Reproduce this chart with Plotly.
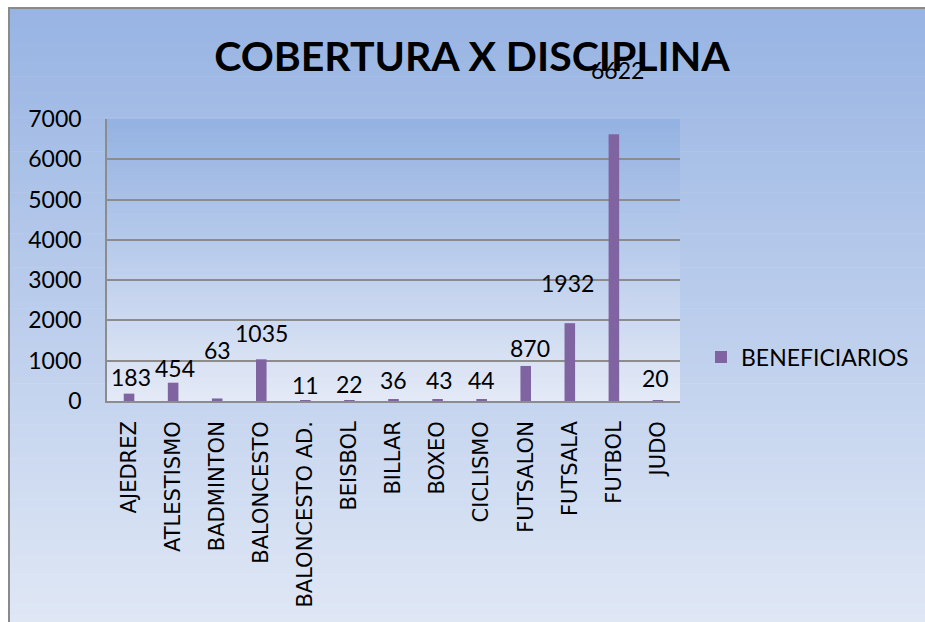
import plotly.graph_objects as go

# ---- data ----
categories = ["AJEDREZ", "ATLESTISMO", "BADMINTON", "BALONCESTO", "BALONCESTO AD.",
              "BEISBOL", "BILLAR", "BOXEO", "CICLISMO", "FUTSALON", "FUTSALA",
              "FUTBOL", "JUDO"]
beneficiarios = [183, 454, 63, 1035, 11, 22, 36, 43, 44, 870, 1932, 6622, 20]
series_name = "BENEFICIARIOS"
title_text = "COBERTURA X DISCIPLINA"
y_ticks = [0, 1000, 2000, 3000, 4000, 5000, 6000, 7000]

# label placement (pixel offsets, as in the original chart)
label_yshift = [17, 15, 48, 26, 16, 16, 20, 19, 19, 18, 40, 64, 22]
label_xshift = [2, 2, 0, 0, 0, 0, 0, 2, 0, 4, -2, 4, -2]

# ---- layout geometry ----
W, H = 925, 622
L, R, T, B = 107, 680, 119, 401

def px_x(p):
    return (p - L) / (R - L)

def px_y(p):
    return (B - p) / (B - T)

def mix(c1, c2, f):
    return "rgb(%d,%d,%d)" % tuple(round(a + (b - a) * f) for a, b in zip(c1, c2))

shapes = []
# outer chart-area gradient
outer_top, outer_bot = (152, 180, 227), (223, 231, 245)
N = 90
y0, y1 = 8, 622
for i in range(N):
    a = y0 + (y1 - y0) * i / N
    b = y0 + (y1 - y0) * (i + 1) / N
    shapes.append(dict(type="rect", xref="paper", yref="paper",
                       x0=px_x(9), x1=px_x(W + 2), y0=px_y(a), y1=px_y(b + 0.6),
                       fillcolor=mix(outer_top, outer_bot, i / (N - 1)),
                       line=dict(width=0), layer="below"))
# plot-area gradient
plot_top, plot_bot = (148, 178, 226), (227, 233, 246)
M = 60
for i in range(M):
    a = T + (B - T) * i / M
    b = T + (B - T) * (i + 1) / M
    shapes.append(dict(type="rect", xref="paper", yref="paper",
                       x0=0, x1=1, y0=px_y(a), y1=px_y(b + 0.6),
                       fillcolor=mix(plot_top, plot_bot, i / (M - 1)),
                       line=dict(width=0), layer="below"))
# chart frame
shapes.append(dict(type="path", xref="paper", yref="paper",
                   path="M %f,%f L %f,%f L %f,%f" % (px_x(9), px_y(H + 5), px_x(9), px_y(8),
                                                    px_x(W + 5), px_y(8)),
                   line=dict(color="#8A8A8A", width=2), layer="below"))

fig = go.Figure()
fig.add_trace(go.Bar(x=categories, y=beneficiarios, name=series_name,
                     marker=dict(color="#8064A2", line=dict(width=0)),
                     width=0.24, showlegend=True))

annotations = []
for c, v, ys, xs in zip(categories, beneficiarios, label_yshift, label_xshift):
    annotations.append(dict(x=c, y=v, text=str(v), showarrow=False,
                            yshift=ys, xshift=xs, yanchor="middle", xanchor="center",
                            font=dict(family="Lato", size=23, color="black")))

fig.update_layout(
    width=W, height=H,
    margin=dict(l=L, r=W - R, t=T, b=H - B, pad=0, autoexpand=False),
    paper_bgcolor="white",
    plot_bgcolor="rgba(0,0,0,0)",
    shapes=shapes,
    annotations=annotations,
    title=dict(text="<b>" + title_text + "</b>", x=472 / W, xanchor="center",
               y=1 - 57 / H, yanchor="middle",
               font=dict(family="Lato", size=41, color="black")),
    showlegend=True,
    legend=dict(x=px_x(701), xanchor="left", y=px_y(357), yanchor="middle",
                bgcolor="rgba(0,0,0,0)", font=dict(family="Lato", size=23, color="black"),
                itemwidth=30),
    xaxis=dict(showline=True, linecolor="#8C8C8C", linewidth=1.5, automargin=False,
               tickangle=-90, ticks="", ticklabelstandoff=10,
               tickfont=dict(family="DejaVu Sans", size=21, color="black"),
               showgrid=False, fixedrange=True),
    yaxis=dict(range=[0, 7000], tickvals=y_ticks, showgrid=True, automargin=False,
               gridcolor="#8C8C8C", gridwidth=1.5, zeroline=False,
               showline=True, linecolor="#8C8C8C", linewidth=1.5,
               ticks="", ticklabelstandoff=19,
               tickfont=dict(family="Lato", size=23, color="black")),
)

fig.write_html("out.html",
               config={"displayModeBar": False},
               post_script="document.body.style.margin='0';"
                           "document.body.style.overflow='hidden';"
                           "document.documentElement.style.overflow='hidden';")
